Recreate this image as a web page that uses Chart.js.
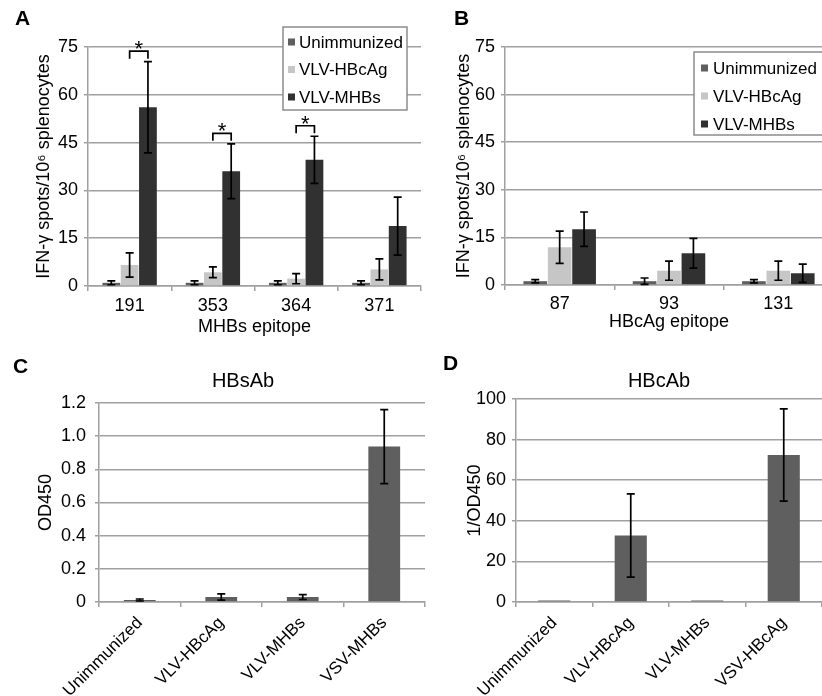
<!DOCTYPE html>
<html>
<head>
<meta charset="utf-8">
<script src="https://cdn.jsdelivr.net/npm/chart.js@4.4.1/dist/chart.umd.min.js"></script>
<style>
html, body { margin: 0; padding: 0; background: #fff; overflow: hidden; }
#fig { position: relative; width: 822px; height: 696px; overflow: hidden; font-family: Arial, "Liberation Sans", sans-serif; color: #000; }
canvas { position: absolute; }
.letter { position: absolute; font-weight: bold; font-size: 21px; line-height: 21px; }
.ttl { position: absolute; font-size: 20px; line-height: 20px; transform: translateX(-50%); white-space: nowrap; }
</style>
</head>
<body>
<div id="fig">
  <canvas id="chartA" style="left:0;top:0" width="424" height="340"></canvas>
  <canvas id="chartB" style="left:411px;top:0" width="422" height="340"></canvas>
  <canvas id="chartC" style="left:0;top:340px" width="426" height="356"></canvas>
  <canvas id="chartD" style="left:411px;top:340px" width="411" height="356"></canvas>
  <div class="letter" style="left:15px;top:7px">A</div>
  <div class="letter" style="left:454px;top:7px">B</div>
  <div class="letter" style="left:13px;top:355px">C</div>
  <div class="letter" style="left:443px;top:352px">D</div>
  <div class="ttl" style="left:243px;top:370px">HBsAb</div>
  <div class="ttl" style="left:659px;top:370px">HBcAb</div>
</div>
<script>
// DATA
const seriesNames = ['Unimmunized', 'VLV-HBcAg', 'VLV-MHBs'];

const epitopesA = ['191', '353', '364', '371'];
const unimmA = [1.0, 1.0, 1.0, 1.0];
const unimmAErr = [0.6, 0.6, 0.6, 0.6];
const hbcagA = [6.6, 4.3, 2.3, 5.2];
const hbcagAErr = [3.8, 1.7, 1.6, 3.3];
const mhbsA = [56.1, 36.0, 39.6, 18.8];
const mhbsAErr = [14.3, 8.6, 7.4, 9.1];
const signifA = ['191', '353', '364'];   // epitopes with * bracket

const epitopesB = ['87', '93', '131'];
const unimmB = [1.2, 1.2, 1.2];
const unimmBErr = [0.5, 1.0, 0.5];
const hbcagB = [11.9, 4.5, 4.5];
const hbcagBErr = [5.1, 3.0, 3.0];
const mhbsB = [17.6, 10.0, 3.7];
const mhbsBErr = [5.4, 4.7, 2.9];

const ticksAB = [0, 15, 30, 45, 60, 75];

const groupsC = ['Unimmunized', 'VLV-HBcAg', 'VLV-MHBs', 'VSV-MHBs'];
const hbsAb = [0.012, 0.03, 0.03, 0.937];
const hbsAbErr = [0.006, 0.019, 0.015, 0.223];
const ticksC = [0, 0.2, 0.4, 0.6, 0.8, 1.0, 1.2];

const groupsD = ['Unimmunized', 'VLV-HBcAg', 'VLV-MHBs', 'VSV-HBcAg'];
const hbcAb = [0.7, 32.8, 0.7, 72.4];
const hbcAbErr = [0, 20.5, 0, 22.7];
const ticksD = [0, 20, 40, 60, 80, 100];

const seriesColors = ['#5f5f5f', '#c6c6c6', '#313131'];
const gridColor = '#a0a0a0';

Chart.defaults.font.family = 'Arial, "Liberation Sans", sans-serif';
Chart.defaults.color = '#000';
Chart.defaults.devicePixelRatio = 1;

// error bars from dataset.errors
const errorBars = {
  id: 'errorBars',
  afterDatasetsDraw(chart) {
    const ctx = chart.ctx;
    const y = chart.scales.y;
    ctx.save();
    ctx.strokeStyle = '#000';
    ctx.lineWidth = 1.7;
    chart.data.datasets.forEach((ds, i) => {
      chart.getDatasetMeta(i).data.forEach((bar, j) => {
        const e = ds.errors[j];
        if (!e) return;
        const top = y.getPixelForValue(ds.data[j] + e);
        const bot = y.getPixelForValue(Math.max(ds.data[j] - e, 0));
        ctx.beginPath();
        ctx.moveTo(bar.x, top); ctx.lineTo(bar.x, bot);
        ctx.moveTo(bar.x - 4, top); ctx.lineTo(bar.x + 4, top);
        ctx.moveTo(bar.x - 4, bot); ctx.lineTo(bar.x + 4, bot);
        ctx.stroke();
      });
    });
    ctx.restore();
  }
};

// significance brackets between VLV-HBcAg and VLV-MHBs
const sigBrackets = {
  id: 'sigBrackets',
  afterDatasetsDraw(chart, args, opts) {
    if (!opts.labels) return;
    const ctx = chart.ctx;
    const y = chart.scales.y;
    const ds = chart.data.datasets;
    ctx.save();
    ctx.strokeStyle = '#000';
    ctx.lineWidth = 1.7;
    ctx.fillStyle = '#000';
    ctx.font = '22px Arial, "Liberation Sans", sans-serif';
    ctx.textAlign = 'center';
    opts.labels.forEach(lab => {
      const j = chart.data.labels.indexOf(lab);
      const x1 = chart.getDatasetMeta(1).data[j].x;
      const x2 = chart.getDatasetMeta(2).data[j].x;
      const bottom = y.getPixelForValue(ds[2].data[j] + ds[2].errors[j]) - 3;
      const line = bottom - 7.5;
      ctx.beginPath();
      ctx.moveTo(x1, bottom); ctx.lineTo(x1, line); ctx.lineTo(x2, line); ctx.lineTo(x2, bottom);
      ctx.stroke();
      ctx.fillText('*', (x1 + x2) / 2, line + 5);
    });
    ctx.restore();
  }
};

// legend in a framed box
const boxLegend = {
  id: 'boxLegend',
  afterDraw(chart, args, o) {
    if (!o.box) return;
    const ctx = chart.ctx;
    const b = o.box;
    ctx.save();
    ctx.fillStyle = '#fff';
    ctx.fillRect(b[0], b[1], b[2], b[3]);
    ctx.strokeStyle = '#8c8c8c';
    ctx.lineWidth = 1.5;
    ctx.strokeRect(b[0], b[1], b[2], b[3]);
    ctx.font = '17px Arial, "Liberation Sans", sans-serif';
    ctx.textBaseline = 'middle';
    chart.data.datasets.forEach((ds, i) => {
      const cy = o.firstRow + i * o.rowGap;
      ctx.fillStyle = ds.backgroundColor;
      ctx.fillRect(o.markX, cy - 3.5, 7, 7);
      ctx.fillStyle = '#000';
      ctx.fillText(ds.label, o.textX, cy + 1);
    });
    ctx.restore();
  }
};

function yAxis(ticks, title, width, titlePad, labelPad, fmt) {
  return {
    min: ticks[0],
    max: ticks[ticks.length - 1],
    afterBuildTicks: s => { s.ticks = ticks.map(v => ({ value: v })); },
    afterFit: s => { s.width = width; },
    grid: { color: gridColor, lineWidth: 1.5, tickLength: 4 },
    border: { color: gridColor, width: 1.5 },
    ticks: { font: { size: 18 }, padding: labelPad, callback: fmt || (v => v) },
    title: { display: true, text: title, font: { size: 18 }, padding: { top: titlePad, bottom: 0 } }
  };
}

function xAxis(height, extra) {
  return Object.assign({
    afterFit: s => { s.height = height; },
    grid: { display: true, drawOnChartArea: false, color: gridColor, lineWidth: 1.5, tickLength: 5 },
    border: { color: gridColor, width: 1.5 }
  }, extra);
}

function groupedDatasets(vals, errs, pct) {
  return vals.map((v, i) => ({
    label: seriesNames[i],
    data: v,
    errors: errs[i],
    backgroundColor: seriesColors[i],
    categoryPercentage: pct,
    barPercentage: 0.97
  }));
}

// A: MHBs epitopes
new Chart(document.getElementById('chartA'), {
  type: 'bar',
  data: {
    labels: epitopesA,
    datasets: groupedDatasets([unimmA, hbcagA, mhbsA], [unimmAErr, hbcagAErr, mhbsAErr], 0.66)
  },
  options: {
    responsive: false,
    animation: false,
    layout: { padding: { top: 47, right: 3, left: 0, bottom: 0 } },
    plugins: {
      legend: { display: false },
      tooltip: { enabled: false },
      sigBrackets: { labels: signifA },
      boxLegend: { box: [283, 27, 124, 83], firstRow: 42, rowGap: 27.5, markX: 288, textX: 299 }
    },
    scales: {
      x: xAxis(54, {
        ticks: { font: { size: 18 }, padding: 4 },
        title: { display: true, text: 'MHBs epitope', font: { size: 18 }, padding: { top: 0, bottom: 2.5 } }
      }),
      y: yAxis(ticksAB, 'IFN-γ spots/10⁶ splenocytes', 88, 33, 6)
    }
  },
  plugins: [errorBars, sigBrackets, boxLegend]
});

// B: HBcAg epitopes
new Chart(document.getElementById('chartB'), {
  type: 'bar',
  data: {
    labels: epitopesB,
    datasets: groupedDatasets([unimmB, hbcagB, mhbsB], [unimmBErr, hbcagBErr, mhbsBErr], 0.67)
  },
  options: {
    responsive: false,
    animation: false,
    layout: { padding: { top: 47, right: 0, left: 0, bottom: 0 } },
    plugins: {
      legend: { display: false },
      tooltip: { enabled: false },
      boxLegend: { box: [283, 52, 140, 83], firstRow: 68, rowGap: 28, markX: 290, textX: 302 }
    },
    scales: {
      x: xAxis(55, {
        ticks: { font: { size: 18 }, padding: 3 },
        title: { display: true, text: 'HBcAg epitope', font: { size: 18 }, padding: { top: 0, bottom: 7.5 } }
      }),
      y: yAxis(ticksAB, 'IFN-γ spots/10⁶ splenocytes', 94, 42, 6)
    }
  },
  plugins: [errorBars, boxLegend]
});

// C: HBsAb
new Chart(document.getElementById('chartC'), {
  type: 'bar',
  data: {
    labels: groupsC,
    datasets: [{
      label: 'HBsAb',
      data: hbsAb,
      errors: hbsAbErr,
      backgroundColor: seriesColors[0],
      categoryPercentage: 0.39,
      barPercentage: 1
    }]
  },
  options: {
    responsive: false,
    animation: false,
    layout: { padding: { top: 63, right: 1, left: 0, bottom: 0 } },
    plugins: { legend: { display: false }, tooltip: { enabled: false } },
    scales: {
      x: xAxis(94, { ticks: { font: { size: 17 }, padding: 6, minRotation: 45, maxRotation: 45, autoSkip: false } }),
      y: yAxis(ticksC, 'OD450', 99, 35, 9, v => v === 0 ? '0' : v.toFixed(1))
    }
  },
  plugins: [errorBars]
});

// D: HBcAb
new Chart(document.getElementById('chartD'), {
  type: 'bar',
  data: {
    labels: groupsD,
    datasets: [{
      label: 'HBcAb',
      data: hbcAb,
      errors: hbcAbErr,
      backgroundColor: seriesColors[0],
      categoryPercentage: 0.42,
      barPercentage: 1
    }]
  },
  options: {
    responsive: false,
    animation: false,
    layout: { padding: { top: 59, right: 0, left: 0, bottom: 0 } },
    plugins: { legend: { display: false }, tooltip: { enabled: false } },
    scales: {
      x: xAxis(94, { ticks: { font: { size: 17 }, padding: 6, minRotation: 45, maxRotation: 45, autoSkip: false } }),
      y: yAxis(ticksD, '1/OD450', 105, 53, 6)
    }
  },
  plugins: [errorBars]
});
</script>
</body>
</html>
